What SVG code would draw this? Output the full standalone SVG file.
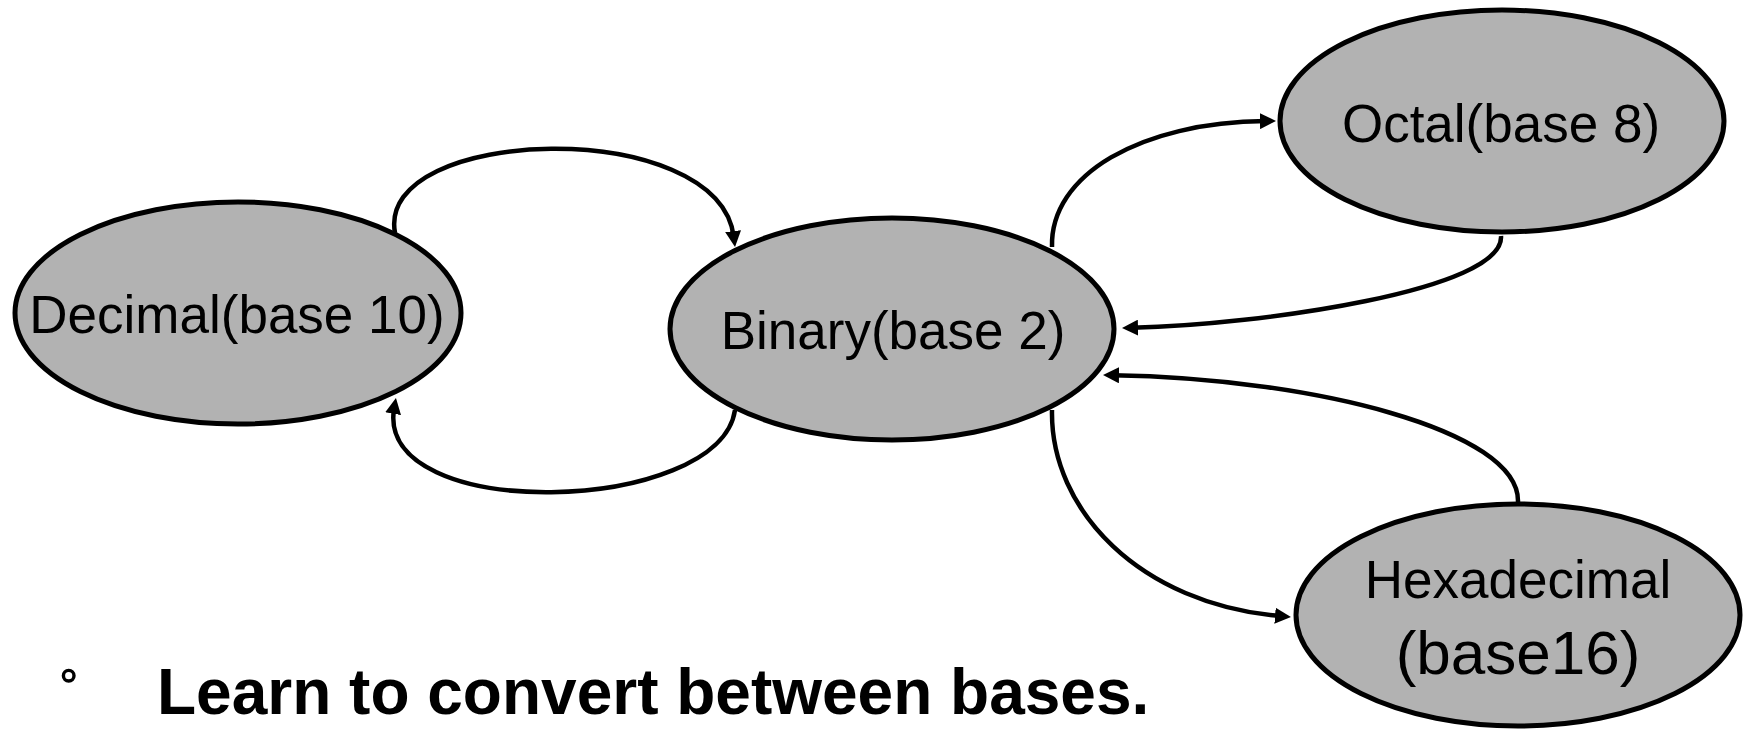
<svg xmlns="http://www.w3.org/2000/svg" width="1746" height="730" viewBox="0 0 1746 730">
  <style>
    .node { fill: #b2b2b2; stroke: #000; stroke-width: 5; }
    .label { font-family: "Liberation Sans", Arial, sans-serif; font-size: 53px; fill: #000; text-anchor: middle; }
    .edge { fill: none; stroke: #000; stroke-width: 4.5; marker-end: url(#arrow); }
    .caption { font-family: "Liberation Sans", Arial, sans-serif; font-size: 64px; font-weight: bold; fill: #000; }
  </style>
  <defs>
    <marker id="arrow" markerUnits="userSpaceOnUse" markerWidth="16" markerHeight="16" refX="6" refY="8" orient="auto">
      <path d="M0,0 L16,8 L0,16 Z" fill="#000"/>
    </marker>
  </defs>

  <rect width="1746" height="730" fill="#fff"/>

  <g id="decimal">
    <ellipse class="node" cx="238" cy="313" rx="223" ry="111"/>
    <text class="label" x="237" y="333">Decimal(base 10)</text>
  </g>

  <g id="binary">
    <ellipse class="node" cx="892" cy="329" rx="222" ry="111"/>
    <text class="label" x="893" y="349">Binary(base 2)</text>
  </g>

  <g id="octal">
    <ellipse class="node" cx="1502" cy="121" rx="222" ry="111"/>
    <text class="label" x="1501" y="142">Octal(base 8)</text>
  </g>

  <g id="hexadecimal">
    <ellipse class="node" cx="1518" cy="615" rx="222" ry="111"/>
    <text class="label" x="1518" y="598">Hexadecimal</text>
    <text class="label" x="1518" y="674" style="font-size:62px">(base16)</text>
  </g>

  <g id="connectors">
    <!-- decimal -> binary -->
    <path class="edge" d="M395,233 C375,125 718.8,115.1 733.8,237.1"/>
    <!-- binary -> decimal -->
    <path class="edge" d="M735,410 C720,515 373.2,524.8 394.2,407.8"/>
    <!-- binary -> octal -->
    <path class="edge" d="M1052,247 C1050,175 1140,122.1 1266,121.1"/>
    <!-- octal -> binary -->
    <path class="edge" d="M1501,236 C1505,290 1260,324.8 1132,327.8"/>
    <!-- hexadecimal -> binary -->
    <path class="edge" d="M1518,502 C1520,430 1310,378.2 1113,375.2"/>
    <!-- binary -> hexadecimal -->
    <path class="edge" d="M1052,410 C1050,510 1140,604.2 1281,616.2"/>
  </g>

  <g id="caption">
    <circle cx="68.7" cy="675.7" r="5.3" fill="none" stroke="#000" stroke-width="3.4"/>
    <text class="caption" x="157" y="714">Learn to convert between bases.</text>
  </g>
</svg>
